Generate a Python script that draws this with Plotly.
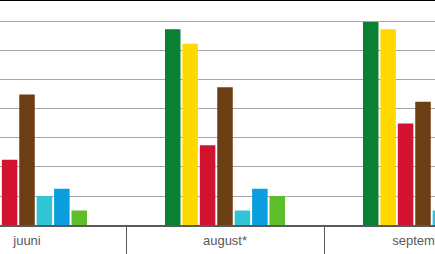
import plotly.graph_objects as go

categories = ["juuni", "august*", "september"]
series_names = ["Seeria 1", "Seeria 2", "Seeria 3", "Seeria 4", "Seeria 5", "Seeria 6", "Seeria 7"]
series_values = [
    [28, 27, 28],   # green
    [27, 25, 27],   # yellow
    [9, 11, 14],    # red
    [18, 19, 17],   # brown
    [4, 2, 2],      # cyan
    [5, 5, 5],      # blue
    [2, 4, 4],      # light green
]
colors = ["#0a8033", "#ffd800", "#d2122e", "#6b3e14", "#31c3d6", "#0a9de0", "#5ebd2a"]

fig = go.Figure()
for name, vals, col in zip(series_names, series_values, colors):
    fig.add_trace(go.Bar(x=categories, y=vals, name=name, marker_color=col,
                         marker_line_width=0))

fig.update_layout(
    width=435, height=254,
    margin=dict(l=0, r=0, t=0, b=29, autoexpand=False),
    barmode="group", bargap=0.384, bargroupgap=0.11,
    showlegend=False,
    plot_bgcolor="white", paper_bgcolor="white",
    font=dict(family="Liberation Sans, Arial, sans-serif", size=13, color="#595959"),
    shapes=[dict(type="line", xref="paper", yref="paper", x0=0, x1=1, y0=1, y1=1,
                 line=dict(color="black", width=2))],
)
fig.update_xaxes(
    range=[-0.1364, 2.0606], automargin=False,
    showline=True, linecolor="#595959", linewidth=2,
    showgrid=False,
    tickson="boundaries", ticks="outside", ticklen=29, tickcolor="#595959", tickwidth=1,
    ticklabelstandoff=2,
)
fig.update_yaxes(
    range=[0, 31.03], dtick=4, showticklabels=False, automargin=False,
    showgrid=True, gridcolor="#a6a6a6", gridwidth=1,
    zeroline=False,
)
fig.write_html("out.html")
